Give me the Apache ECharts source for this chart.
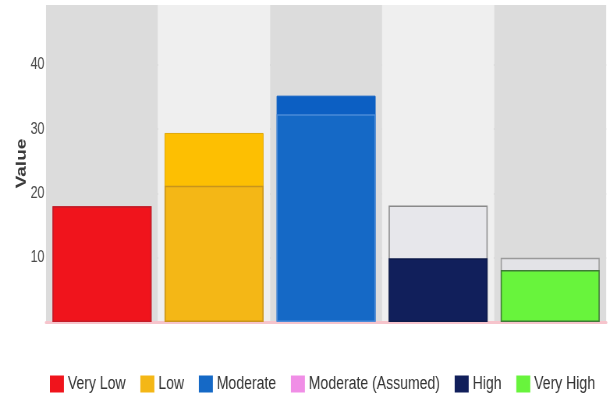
<!DOCTYPE html>
<html>
<head>
<meta charset="utf-8">
<script src="https://cdn.jsdelivr.net/npm/echarts@6/dist/echarts.min.js"></script>
<style>
  html, body { margin: 0; padding: 0; background: #ffffff; overflow: hidden; width: 609px; height: 407px; }
  /* the chart is laid out wide and drawn with a horizontally condensed look */
  #chart { height: 407px; transform-origin: 0 0; }
</style>
</head>
<body>
<div id="chart"></div>
<script>
// Risk categories, one band per category
const categories = ['Very Low', 'Low', 'Moderate', 'High', 'Very High'];
// Upper (outline) value of each band
const envelopeValues = [18.0, 29.4, 35.2, 18.1, 10.0];
// Filled level of each band
const levelValues = [18.0, 21.2, 32.3, 9.9, 8.1];
// Legend-only series with no bars of its own
const assumedName = 'Moderate (Assumed)';
const yTicks = [10, 20, 30, 40];

// horizontal condensing factor
const SX = 0.78;
const W = Math.round(609 / SX);
const px = v => v / SX;   // screen-x length to layout length

const el = document.getElementById('chart');
el.style.width = W + 'px';
el.style.transform = 'scaleX(' + SX + ')';

const font = '"Liberation Sans", Arial, sans-serif';

const levelColors = ['#f0141c', '#f4b716', '#1569c6', '#111f5b', '#68f43c'];
const levelBorders = ['#c41c28', '#c8951c', '#4a8ad8', '#0d1a4a', '#3f7a36'];
const envelopeStyles = [
  { color: '#f0141c', borderColor: '#c41c28', borderWidth: 1.5 },
  { color: '#fdbf02', borderColor: '#e0a80a', borderWidth: 1 },
  { color: '#0c5fc3', borderColor: '#0c5fc3', borderWidth: 1 },
  { color: '#e7e7eb', borderColor: '#8a8a8a', borderWidth: 1.5 },
  { color: '#e3e3e7', borderColor: '#9a9a9a', borderWidth: 1.5 }
];

const BAR_W = px(99);

const series = [];
series.push({
  name: 'Envelope',
  type: 'bar',
  barWidth: BAR_W,
  barGap: '-100%',
  z: 2,
  data: envelopeValues.map((v, i) => ({ value: v, itemStyle: envelopeStyles[i] })),
  emphasis: { disabled: true }
});
categories.forEach((name, i) => {
  series.push({
    name: name,
    type: 'bar',
    barWidth: BAR_W,
    barGap: '-100%',
    z: 3,
    itemStyle: { color: levelColors[i], borderColor: levelBorders[i], borderWidth: 1.5 },
    data: categories.map((c, j) => (j === i ? levelValues[i] : '-')),
    emphasis: { disabled: true }
  });
  if (name === 'Moderate') {
    series.push({
      name: assumedName,
      type: 'bar',
      barWidth: BAR_W,
      barGap: '-100%',
      itemStyle: { color: '#f08ee6' },
      data: categories.map(() => '-')
    });
  }
});

const chart = echarts.init(el, null, { renderer: 'canvas', width: W, height: 407 });
chart.setOption({
  animation: false,
  backgroundColor: '#ffffff',
  grid: { left: px(46), right: px(3), top: 5, bottom: 85, containLabel: false },
  legend: {
    data: ['Very Low', 'Low', 'Moderate', assumedName, 'High', 'Very High'],
    left: px(46),
    top: 370,
    icon: 'rect',
    itemWidth: px(14),
    itemHeight: 17,
    itemGap: 19,
    itemStyle: { borderWidth: 0 },
    textStyle: { fontFamily: font, fontSize: 18, color: '#333333' }
  },
  xAxis: {
    type: 'category',
    data: categories,
    offset: 2,
    axisLine: { show: true, lineStyle: { color: '#f6c4cc', width: 3 } },
    axisTick: { show: false },
    axisLabel: { show: false },
    splitArea: { show: true, areaStyle: { color: ['#dcdcdc', '#efefef'] } }
  },
  yAxis: {
    type: 'value',
    min: 0,
    max: 49.3,
    interval: 10,
    name: 'Value',
    nameLocation: 'middle',
    nameRotate: 90,
    nameGap: 22,
    nameMoveOverlap: false,
    nameTextStyle: { fontFamily: font, fontSize: 19, fontWeight: 'bold', color: '#3a3a3a' },
    axisLine: { show: false },
    axisTick: { show: false },
    axisLabel: {
      showMinLabel: false,
      showMaxLabel: false,
      margin: 2,
      padding: [3, 0, 0, 0],
      fontFamily: font,
      fontSize: 16,
      color: '#4a4a4a',
      formatter: v => (yTicks.indexOf(v) >= 0 ? String(v) : '')
    },
    splitLine: { show: true, showMinLine: false, showMaxLine: false, lineStyle: { color: '#cbcbcb', width: 2 } }
  },
  series: series
});
</script>
</body>
</html>
